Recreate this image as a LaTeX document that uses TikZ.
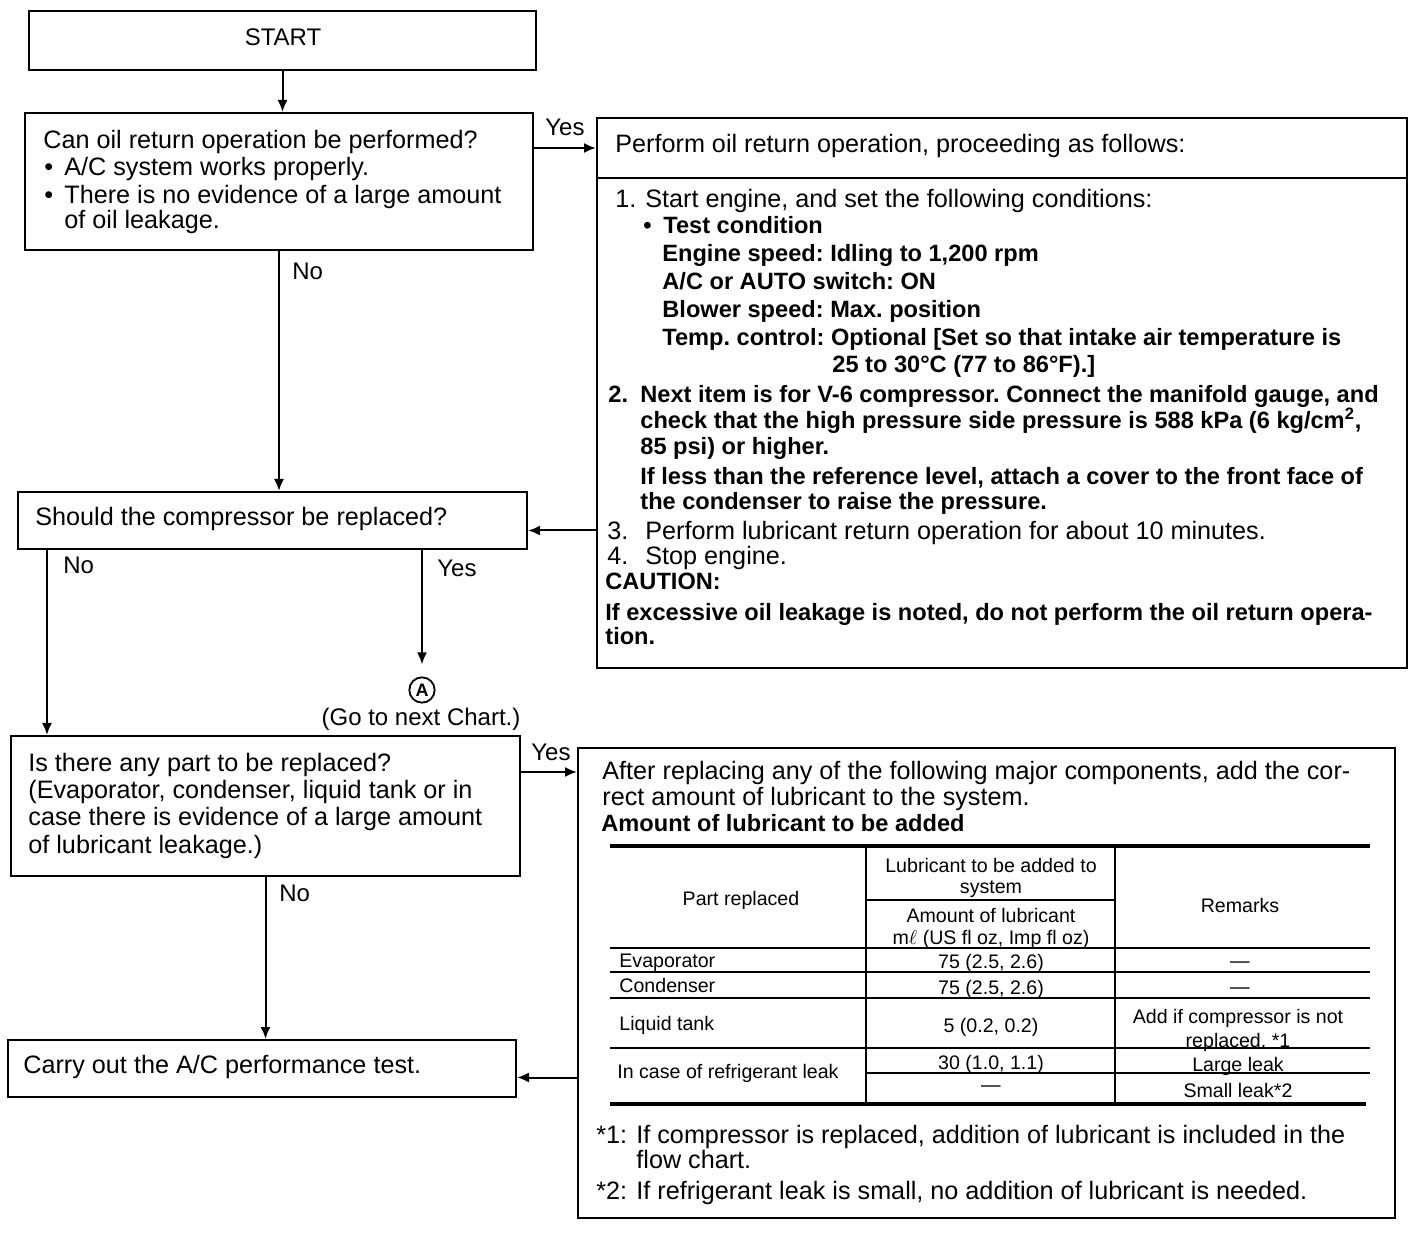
\documentclass[tikz,border=0pt]{standalone}
\usepackage{fontspec}
\setmainfont{Liberation Sans}
\usepackage{tikz}
\usetikzlibrary{arrows.meta,calc,fit,positioning}
\frenchspacing

\tikzset{
  stepbox/.style={draw,line width=1pt,inner sep=0pt},
  flowline/.style={line width=1pt,-{Latex[length=6pt,width=5pt]}},
  txt/.style={anchor=mid west,inner sep=0pt,yshift=-1.5pt,font=\fontsize{12.6}{14}\selectfont},
  btxt/.style={anchor=mid west,inner sep=0pt,yshift=-1.5pt,font=\fontsize{11.8}{14}\selectfont\bfseries},
  ans/.style={anchor=mid west,inner sep=0pt,yshift=-1.5pt,font=\fontsize{12}{14}\selectfont},
  tbl/.style={inner sep=0pt,yshift=-1pt,font=\fontsize{9.8}{11}\selectfont},
  thickrule/.style={line width=1.8pt},
  thinrule/.style={line width=0.8pt},
}

\begin{document}
\begin{tikzpicture}[x=0.5pt,y=-0.5pt]
  \useasboundingbox (0,0) rectangle (1424,1234);

  % boxes
  \node[stepbox,fit={(29,11)(536,70)}] (start) {};
  \node[stepbox,fit={(25,113)(533,250)}] (qoil) {};
  \node[stepbox,fit={(597,118)(1407,178)}] (oilhead) {};
  \node[stepbox,fit={(597,178)(1407,668)}] (oilbody) {};
  \node[stepbox,fit={(18,492)(527,549)}] (replcomp) {};
  \node[stepbox,fit={(11,736)(520,876)}] (partq) {};
  \node[stepbox,fit={(578,748)(1395,1218)}] (lubbox) {};
  \node[stepbox,fit={(8,1040)(516,1097)}] (perftest) {};

  % texts of the left column
  \node[inner sep=0pt,font=\fontsize{12}{14}\selectfont] (starttxt) at (283,37) {START};
  \node[txt] (qoil1) at (43,140) {Can oil return operation be performed?};
  \node[txt] (qoil2) at (44,167) {\makebox[10pt][l]{\textbullet}A/C system works properly.};
  \node[txt] (qoil3) at (44,195) {\makebox[10pt][l]{\textbullet}There is no evidence of a large amount};
  \node[txt] (qoil4) at (64,220) {of oil leakage.};
  \node[txt] (replcomptxt) at (35,517) {Should the compressor be replaced?};
  \foreach \t [count=\i] in {Is there any part to be replaced?,
      {(Evaporator, condenser, liquid tank or in},
      case there is evidence of a large amount,
      of lubricant leakage.)}
    \node[txt] (partq\i) at (28,{763+27.3*(\i-1)}) {\t};
  \node[txt] (perftesttxt) at (23,1065) {Carry out the A/C performance test.};

  % oil return operation
  \node[txt] (oilheadtxt) at (615,144) {Perform oil return operation, proceeding as follows:};
  \node[txt] (s1) at (615,199) {\makebox[15pt][l]{1.}Start engine, and set the following conditions:};
  \node[btxt] (s1b) at (643,225) {\makebox[10pt][l]{\textbullet}Test condition};
  \foreach \t [count=\i] in {Engine speed: Idling to 1{,}200 rpm,
      A/C or AUTO switch: ON,
      Blower speed: Max. position,
      Temp. control: Optional [Set so that intake air temperature is}
    \node[btxt] (s1c\i) at (662,{253+28*(\i-1)}) {\t};
  \node[btxt] (s1d) at (832,364) {25 to 30°C (77 to 86°F).]};
  \node[btxt] (s2) at (608,394) {\makebox[16pt][l]{2.}Next item is for V-6 compressor. Connect the manifold gauge, and};
  \node[btxt] (s2b) at (640,420) {check that the high pressure side pressure is 588 kPa (6 kg/cm\textsuperscript{2},};
  \node[btxt] (s2c) at (640,446) {85 psi) or higher.};
  \node[btxt] (s2d) at (640,476) {If less than the reference level, attach a cover to the front face of};
  \node[btxt] (s2e) at (640,501) {the condenser to raise the pressure.};
  \node[txt] (s3) at (607,531) {\makebox[19pt][l]{3.}Perform lubricant return operation for about 10 minutes.};
  \node[txt] (s4) at (607,556) {\makebox[19pt][l]{4.}Stop engine.};
  \node[btxt] (caution) at (605,581) {CAUTION:};
  \node[btxt] (caution1) at (605,612) {If excessive oil leakage is noted, do not perform the oil return opera-};
  \node[btxt] (caution2) at (605,636) {tion.};

  % lubricant box
  \node[txt] (lub1) at (602,771) {After replacing any of the following major components, add the cor-};
  \node[txt] (lub2) at (602,797) {rect amount of lubricant to the system.};
  \node[btxt] (lub3) at (601,823) {Amount of lubricant to be added};

  % table
  \draw[thickrule] (610,846) -- (1370,846);
  \draw[thinrule] (866,846) -- (866,1104);
  \draw[thinrule] (1115,846) -- (1115,1104);
  \draw[thinrule] (866,900) -- (1115,900);
  \foreach \y in {948,972,998,1048}
    \draw[thinrule] (610,\y) -- (1370,\y);
  \draw[thinrule] (866,1073) -- (1370,1073);
  \draw[thickrule] (610,1104) -- (1366,1104);

  \node[tbl] (tpart) at (741,898) {Part replaced};
  \node[tbl] (tlub1) at (991,863) {Lubricant to be added to};
  \node[tbl] (tlub2) at (991,887) {system};
  \node[tbl] (tamt1) at (991,913) {Amount of lubricant};
  \node[tbl] (tamt2) at (991,937) {m$\ell$ (US fl oz, Imp fl oz)};
  \node[tbl] (trem) at (1240,903) {Remarks};
  \node[tbl,anchor=mid west] (tevap) at (619,960) {Evaporator};
  \node[tbl] (tevapv) at (991,961) {75 (2.5, 2.6)};
  \node[tbl] (tevapr) at (1240,963) {—};
  \node[tbl,anchor=mid west] (tcond) at (619,985) {Condenser};
  \node[tbl] (tcondv) at (991,987) {75 (2.5, 2.6)};
  \node[tbl] (tcondr) at (1240,989) {—};
  \node[tbl,anchor=mid west] (tliq) at (619,1023) {Liquid tank};
  \node[tbl] (tliqv) at (991,1025) {5 (0.2, 0.2)};
  \node[tbl] (tliqr1) at (1238,1016) {Add if compressor is not};
  \node[tbl] (tliqr2) at (1238,1040) {replaced. *1};
  \node[tbl,anchor=mid west] (tleak) at (617,1071) {In case of refrigerant leak};
  \node[tbl] (tleakv1) at (991,1062) {30 (1.0, 1.1)};
  \node[tbl] (tleakv2) at (991,1087) {—};
  \node[tbl] (tleakr1) at (1238,1064) {Large leak};
  \node[tbl] (tleakr2) at (1238,1088) {Small leak*2};

  % footnotes
  \node[txt] (fn1) at (596,1135) {\makebox[20pt][l]{*1:}If compressor is replaced, addition of lubricant is included in the};
  \node[txt] (fn1b) at (636,1160) {flow chart.};
  \node[txt] (fn2) at (596,1191) {\makebox[20pt][l]{*2:}If refrigerant leak is small, no addition of lubricant is needed.};

  % go to next chart
  \node[circle,draw,line width=0.9pt,inner sep=1.3pt,font=\fontsize{9}{9}\selectfont\bfseries] (goA) at (422,690) {A};
  \node[inner sep=0pt,font=\fontsize{12}{14}\selectfont] (gonext) at (421,719) {(Go to next Chart.)};

  % connectors
  \draw[flowline] (start.south) -- (start.south |- qoil.north);
  \draw[flowline] (qoil.east |- oilhead.center) -- (oilhead.west);
  \node[ans] (yes1) at (545,127) {Yes};
  \draw[flowline] (qoil.south) -- (qoil.south |- replcomp.north);
  \node[ans] (no1) at (292,271) {No};
  \coordinate (retB) at ($(replcomp.east)+(0,10)$);
  \draw[flowline] (retB -| oilbody.west) -- (retB);
  \coordinate (noC) at ($(replcomp.south west)+(30,0)$);
  \draw[flowline] (noC) -- (noC |- partq.north);
  \node[ans] (no2) at (63,565) {No};
  \coordinate (yesC) at ($(replcomp.south west)+(405,0)$);
  \draw[flowline] (yesC) -- ([yshift=6pt]yesC |- goA.north);
  \node[ans] (yes2) at (437,568) {Yes};
  \coordinate (yesD) at ($(partq.north east)+(0,37)$);
  \draw[flowline] (yesD) -- (yesD -| lubbox.west);
  \node[ans] (yes3) at (531,752) {Yes};
  \draw[flowline] (partq.south) -- (partq.south |- perftest.north);
  \node[ans] (no3) at (279,893) {No};
  \coordinate (retE) at ($(perftest.east)+(0,9)$);
  \draw[flowline] (retE -| lubbox.west) -- (retE);
\end{tikzpicture}
\end{document}
